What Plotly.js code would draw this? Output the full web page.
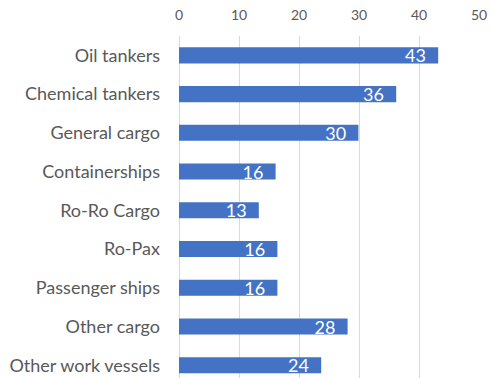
<!DOCTYPE html>
<html>
<head>
<meta charset="utf-8">
<script src="https://cdn.plot.ly/plotly-3.0.1.min.js"></script>
<style>html,body{margin:0;padding:0;background:#fff;}#chart{width:492px;height:378px;}</style>
</head>
<body>
<div id="chart"></div>
<script>
const categories = ["Oil tankers","Chemical tankers","General cargo","Containerships","Ro-Ro Cargo","Ro-Pax","Passenger ships","Other cargo","Other work vessels"];
const values = [43.2, 36.2, 29.9, 16.1, 13.3, 16.4, 16.4, 28.1, 23.7];
const xTicks = [0, 10, 20, 30, 40, 50];

const fontFam = "Lato, 'Open Sans', sans-serif";
const trace = {
  type: 'bar',
  orientation: 'h',
  y: categories,
  x: values,
  marker: {color: '#4472C4', line: {width: 0}},
  texttemplate: '%{x:.0f}\u00a0\u00a0',
  textposition: 'inside',
  insidetextanchor: 'end',
  constraintext: 'none',
  textangle: 0,
  textfont: {color: '#ffffff', size: 18, family: fontFam},
  hoverinfo: 'skip'
};
const layout = {
  width: 492, height: 378,
  margin: {l: 179, r: 13, t: 36, b: 0},
  paper_bgcolor: '#ffffff', plot_bgcolor: '#ffffff',
  showlegend: false,
  bargap: 0.587,
  xaxis: {
    side: 'top', range: [0, 50], tickvals: xTicks,
    showgrid: true, gridcolor: '#d9d9d9', gridwidth: 1,
    zeroline: true, zerolinecolor: '#d9d9d9', zerolinewidth: 1,
    showline: false, ticks: '',
    ticklabelstandoff: 12,
    tickfont: {family: fontFam, size: 14, color: '#595959'}
  },
  yaxis: {
    type: 'category', categoryarray: categories, categoryorder: 'array',
    range: [8.326, -0.5],
    showgrid: false, zeroline: false, showline: false, ticks: '',
    ticklabelstandoff: 18,
    tickfont: {family: fontFam, size: 18, color: '#595959'}
  }
};
Plotly.newPlot('chart', [trace], layout, {staticPlot: true, displayModeBar: false});
</script>
</body>
</html>
